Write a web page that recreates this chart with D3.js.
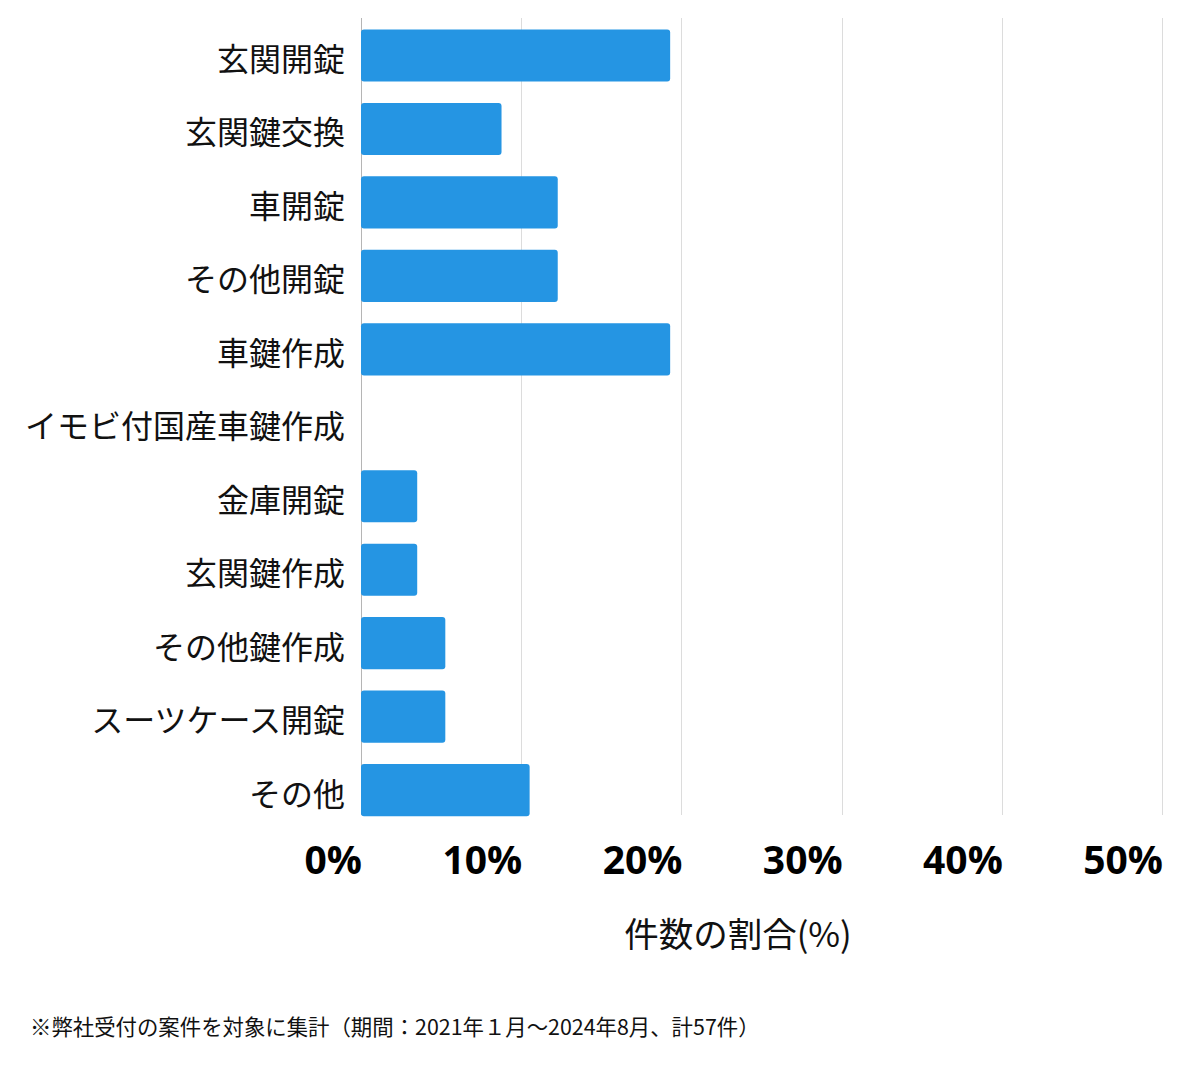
<!DOCTYPE html>
<html><head><meta charset="utf-8">
<script src="https://cdn.jsdelivr.net/npm/d3@7"></script>
<style>
html,body{margin:0;padding:0;background:#fff;}
svg{display:block;}
</style></head>
<body>
<svg id="chart" width="1200" height="1069"></svg>
<script>
const categories = ["玄関開錠","玄関鍵交換","車開錠","その他開錠","車鍵作成","イモビ付国産車鍵作成","金庫開錠","玄関鍵作成","その他鍵作成","スーツケース開錠","その他"];
const counts = [11,5,7,7,11,0,2,2,3,3,6];
const total = 57;
const values = counts.map(c => c / total * 100);
const xTicks = [0,10,20,30,40,50];
const tickLabels = ["0%","10%","20%","30%","40%","50%"];
const axisTitle = "件数の割合(%)";
const footnote = "※弊社受付の案件を対象に集計（期間：2021年１月～2024年8月、計57件）";

const svg = d3.select("#chart");
const jp = "'Noto Sans CJK JP','Noto Sans',sans-serif";

const x = d3.scaleLinear().domain([0,50]).range([361,1162]);
const y = d3.scaleBand().domain(categories).range([18.8,826.8]).paddingInner(0.29).paddingOuter(0.145);

// gridlines
svg.append("g").selectAll("line").data(xTicks).join("line")
  .attr("x1", d => Math.round(x(d)) + 0.5).attr("x2", d => Math.round(x(d)) + 0.5)
  .attr("y1", 18).attr("y2", 815)
  .attr("stroke", d => d === 0 ? "#b5b5b5" : "#dcdcdc").attr("stroke-width", 1);

// bars
svg.append("g").selectAll("rect").data(categories).join("rect")
  .attr("x", x(0)).attr("y", d => y(d))
  .attr("width", (d,i) => Math.max(0, x(values[i]) - x(0)))
  .attr("height", y.bandwidth())
  .attr("rx", 3).attr("ry", 3)
  .attr("fill", "#2595e3")
  .style("display", (d,i) => values[i] > 0 ? null : "none");

// y labels
svg.append("g").selectAll("text").data(categories).join("text")
  .attr("x", 345).attr("y", d => y(d) + y.bandwidth()/2 + 1.5)
  .attr("text-anchor", "end").attr("dominant-baseline", "central")
  .style("font-family", jp).style("font-size", "32px").attr("fill", "#111")
  .text(d => d);

// x tick labels
svg.append("g").selectAll("text").data(xTicks).join("text")
  .attr("x", d => x(d) + 1).attr("y", 874)
  .attr("text-anchor", "end")
  .style("font-family", "'Open Sans','Noto Sans',sans-serif").style("font-weight", "700")
  .style("font-size", "39px").attr("fill", "#000")
  .text((d,i) => tickLabels[i]);

// axis title
svg.append("text").attr("x", 738).attr("y", 947).attr("text-anchor", "middle")
  .style("font-family", jp).style("font-size", "34.5px").attr("fill", "#111")
  .text(axisTitle);

// footnote
svg.append("text").attr("x", 30).attr("y", 1035)
  .style("font-family", jp).style("font-size", "21.4px").attr("fill", "#111")
  .text(footnote);
</script>
</body></html>
